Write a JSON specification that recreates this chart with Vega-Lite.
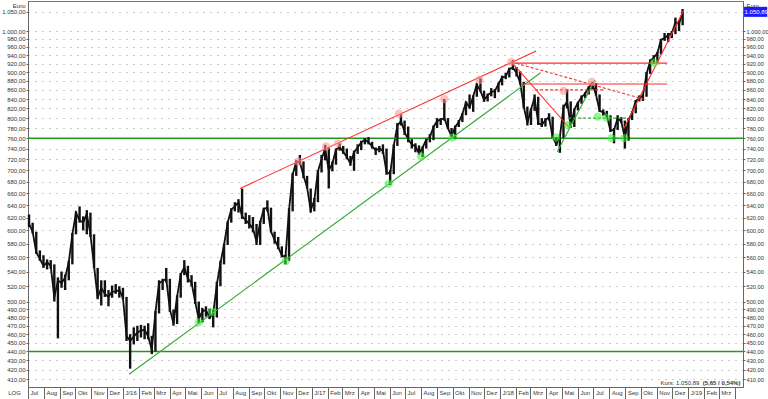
{
"$schema": "https://vega.github.io/schema/vega-lite/v6.json",
"width": 715, "height": 386,
"autosize": "none",
"padding": {"left": 28, "top": 1, "right": 25, "bottom": 12},
"background": "white",
"config": {
  "locale": {"number": {"decimal": ",", "thousands": ".", "grouping": [3], "currency": ["", " €"]}},
  "view": {"stroke": "#777", "strokeWidth": 1},
  "font": "Liberation Sans",
  "axis": {"labelFont": "Liberation Sans", "labelFontSize": 6, "labelColor": "#333", "titleFont": "Liberation Sans", "titleFontSize": 6, "titleFontWeight": "normal", "titleColor": "#333", "domainColor": "#666", "tickColor": "#666"}
},
"datasets": {
"px": [
{"d":"2015-07-03","lo":605,"hi":625,"c":610},{"d":"2015-07-10","lo":595,"hi":612,"c":598},{"d":"2015-07-17","lo":565,"hi":598,"c":567},{"d":"2015-07-24","lo":555,"hi":570,"c":558},{"d":"2015-07-31","lo":545,"hi":563,"c":548},{"d":"2015-08-07","lo":543,"hi":557,"c":553},{"d":"2015-08-14","lo":544,"hi":556,"c":548},{"d":"2015-08-21","lo":500,"hi":550,"c":505},{"d":"2015-08-28","lo":455,"hi":532,"c":528},{"d":"2015-09-04","lo":518,"hi":540,"c":524},{"d":"2015-09-11","lo":515,"hi":536,"c":532},{"d":"2015-09-18","lo":528,"hi":555,"c":553},{"d":"2015-09-25","lo":550,"hi":596,"c":594},{"d":"2015-10-02","lo":594,"hi":630,"c":628},{"d":"2015-10-09","lo":612,"hi":638,"c":616},{"d":"2015-10-16","lo":600,"hi":622,"c":612},{"d":"2015-10-23","lo":594,"hi":632,"c":626},{"d":"2015-10-30","lo":590,"hi":628,"c":594},{"d":"2015-11-06","lo":545,"hi":594,"c":548},{"d":"2015-11-13","lo":503,"hi":545,"c":505},{"d":"2015-11-20","lo":495,"hi":528,"c":518},{"d":"2015-11-27","lo":506,"hi":528,"c":510},{"d":"2015-12-04","lo":494,"hi":515,"c":506},{"d":"2015-12-11","lo":505,"hi":521,"c":513},{"d":"2015-12-18","lo":510,"hi":523,"c":513},{"d":"2015-12-25","lo":505,"hi":520,"c":515},
{"d":"2016-01-01","lo":503,"hi":518,"c":505},{"d":"2016-01-08","lo":452,"hi":506,"c":458},{"d":"2016-01-15","lo":421,"hi":460,"c":452},{"d":"2016-01-22","lo":448,"hi":468,"c":457},{"d":"2016-01-29","lo":452,"hi":470,"c":462},{"d":"2016-02-05","lo":456,"hi":471,"c":464},{"d":"2016-02-12","lo":454,"hi":470,"c":465},{"d":"2016-02-19","lo":454,"hi":473,"c":457},{"d":"2016-02-26","lo":437,"hi":458,"c":442},{"d":"2016-03-04","lo":440,"hi":488,"c":486},{"d":"2016-03-11","lo":485,"hi":528,"c":524},{"d":"2016-03-18","lo":515,"hi":530,"c":527},{"d":"2016-03-25","lo":525,"hi":545,"c":530},{"d":"2016-04-01","lo":487,"hi":530,"c":490},{"d":"2016-04-08","lo":470,"hi":490,"c":473},{"d":"2016-04-15","lo":472,"hi":508,"c":506},{"d":"2016-04-22","lo":505,"hi":538,"c":536},{"d":"2016-04-29","lo":535,"hi":556,"c":546},{"d":"2016-05-06","lo":525,"hi":548,"c":530},{"d":"2016-05-13","lo":520,"hi":535,"c":525},{"d":"2016-05-20","lo":497,"hi":526,"c":500},{"d":"2016-05-27","lo":473,"hi":500,"c":478},{"d":"2016-06-03","lo":474,"hi":492,"c":488},{"d":"2016-06-10","lo":481,"hi":494,"c":489},{"d":"2016-06-17","lo":478,"hi":491,"c":480},{"d":"2016-06-24","lo":468,"hi":489,"c":485},{"d":"2016-07-01","lo":480,"hi":526,"c":522},{"d":"2016-07-08","lo":520,"hi":555,"c":552},{"d":"2016-07-15","lo":550,"hi":580,"c":578},{"d":"2016-07-22","lo":578,"hi":614,"c":612},{"d":"2016-07-29","lo":612,"hi":635,"c":633},{"d":"2016-08-05","lo":630,"hi":645,"c":638},{"d":"2016-08-12","lo":628,"hi":650,"c":645},{"d":"2016-08-19","lo":618,"hi":668,"c":622},{"d":"2016-08-26","lo":610,"hi":628,"c":616},{"d":"2016-09-02","lo":603,"hi":624,"c":610},{"d":"2016-09-09","lo":597,"hi":621,"c":603},{"d":"2016-09-16","lo":578,"hi":610,"c":583},{"d":"2016-09-23","lo":578,"hi":615,"c":612},{"d":"2016-09-30","lo":610,"hi":636,"c":634},{"d":"2016-10-07","lo":630,"hi":648,"c":636},{"d":"2016-10-14","lo":597,"hi":636,"c":598},{"d":"2016-10-21","lo":580,"hi":598,"c":586},{"d":"2016-10-28","lo":572,"hi":590,"c":575},{"d":"2016-11-04","lo":560,"hi":576,"c":563},{"d":"2016-11-11","lo":550,"hi":564,"c":560},{"d":"2016-11-18","lo":555,"hi":635,"c":632},{"d":"2016-11-25","lo":630,"hi":695,"c":692},{"d":"2016-12-02","lo":690,"hi":718,"c":716},{"d":"2016-12-09","lo":710,"hi":728,"c":715},{"d":"2016-12-16","lo":686,"hi":716,"c":690},{"d":"2016-12-23","lo":668,"hi":690,"c":670},{"d":"2016-12-30","lo":628,"hi":668,"c":632},
{"d":"2017-01-06","lo":630,"hi":652,"c":648},{"d":"2017-01-13","lo":645,"hi":700,"c":698},{"d":"2017-01-20","lo":696,"hi":728,"c":720},{"d":"2017-01-27","lo":718,"hi":747,"c":740},{"d":"2017-02-03","lo":668,"hi":742,"c":700},{"d":"2017-02-10","lo":698,"hi":716,"c":712},{"d":"2017-02-17","lo":710,"hi":740,"c":738},{"d":"2017-02-24","lo":736,"hi":750,"c":743},{"d":"2017-03-03","lo":730,"hi":745,"c":734},{"d":"2017-03-10","lo":720,"hi":740,"c":724},{"d":"2017-03-17","lo":708,"hi":726,"c":712},{"d":"2017-03-24","lo":699,"hi":736,"c":733},{"d":"2017-03-31","lo":730,"hi":748,"c":742},{"d":"2017-04-07","lo":737,"hi":755,"c":752},{"d":"2017-04-14","lo":748,"hi":760,"c":757},{"d":"2017-04-21","lo":748,"hi":762,"c":752},{"d":"2017-04-28","lo":740,"hi":753,"c":744},{"d":"2017-05-05","lo":728,"hi":742,"c":737},{"d":"2017-05-12","lo":733,"hi":745,"c":740},{"d":"2017-05-19","lo":730,"hi":748,"c":736},{"d":"2017-05-26","lo":692,"hi":740,"c":697},{"d":"2017-06-02","lo":674,"hi":700,"c":693},{"d":"2017-06-09","lo":693,"hi":748,"c":745},{"d":"2017-06-16","lo":745,"hi":790,"c":785},{"d":"2017-06-23","lo":785,"hi":808,"c":794},{"d":"2017-06-30","lo":766,"hi":795,"c":772},{"d":"2017-07-07","lo":752,"hi":783,"c":757},{"d":"2017-07-14","lo":740,"hi":758,"c":748},{"d":"2017-07-21","lo":733,"hi":750,"c":744},{"d":"2017-07-28","lo":729,"hi":746,"c":731},{"d":"2017-08-04","lo":724,"hi":744,"c":742},{"d":"2017-08-11","lo":740,"hi":759,"c":757},{"d":"2017-08-18","lo":752,"hi":768,"c":762},{"d":"2017-08-25","lo":756,"hi":785,"c":782},{"d":"2017-09-01","lo":780,"hi":800,"c":794},{"d":"2017-09-08","lo":786,"hi":800,"c":797},{"d":"2017-09-15","lo":795,"hi":840,"c":800},{"d":"2017-09-22","lo":778,"hi":800,"c":779},{"d":"2017-09-29","lo":763,"hi":780,"c":764},{"d":"2017-10-06","lo":758,"hi":785,"c":782},{"d":"2017-10-13","lo":782,"hi":796,"c":792},{"d":"2017-10-20","lo":792,"hi":810,"c":808},{"d":"2017-10-27","lo":806,"hi":835,"c":833},{"d":"2017-11-03","lo":820,"hi":850,"c":822},{"d":"2017-11-10","lo":813,"hi":848,"c":846},{"d":"2017-11-17","lo":845,"hi":875,"c":872},{"d":"2017-11-24","lo":856,"hi":886,"c":858},{"d":"2017-12-01","lo":834,"hi":858,"c":838},{"d":"2017-12-08","lo":835,"hi":852,"c":848},{"d":"2017-12-15","lo":846,"hi":864,"c":855},{"d":"2017-12-22","lo":842,"hi":862,"c":858},{"d":"2017-12-29","lo":855,"hi":876,"c":873},
{"d":"2018-01-05","lo":870,"hi":892,"c":888},{"d":"2018-01-12","lo":884,"hi":898,"c":890},{"d":"2018-01-19","lo":888,"hi":910,"c":908},{"d":"2018-01-26","lo":905,"hi":928,"c":910},{"d":"2018-02-02","lo":890,"hi":912,"c":898},{"d":"2018-02-09","lo":872,"hi":902,"c":876},{"d":"2018-02-16","lo":820,"hi":878,"c":824},{"d":"2018-02-23","lo":785,"hi":824,"c":790},{"d":"2018-03-02","lo":786,"hi":820,"c":818},{"d":"2018-03-09","lo":815,"hi":850,"c":843},{"d":"2018-03-16","lo":786,"hi":845,"c":790},{"d":"2018-03-23","lo":782,"hi":800,"c":786},{"d":"2018-03-30","lo":783,"hi":800,"c":796},{"d":"2018-04-06","lo":795,"hi":810,"c":802},{"d":"2018-04-13","lo":760,"hi":803,"c":762},{"d":"2018-04-20","lo":745,"hi":762,"c":748},{"d":"2018-04-27","lo":732,"hi":765,"c":762},{"d":"2018-05-04","lo":760,"hi":828,"c":822},{"d":"2018-05-11","lo":820,"hi":862,"c":835},{"d":"2018-05-18","lo":780,"hi":835,"c":784},{"d":"2018-05-25","lo":782,"hi":820,"c":818},{"d":"2018-06-01","lo":816,"hi":834,"c":832},{"d":"2018-06-08","lo":830,"hi":848,"c":844},{"d":"2018-06-15","lo":842,"hi":855,"c":852},{"d":"2018-06-22","lo":850,"hi":868,"c":866},{"d":"2018-06-29","lo":862,"hi":878,"c":873},{"d":"2018-07-06","lo":848,"hi":875,"c":850},{"d":"2018-07-13","lo":813,"hi":850,"c":815},{"d":"2018-07-20","lo":805,"hi":818,"c":812},{"d":"2018-07-27","lo":802,"hi":815,"c":805},{"d":"2018-08-03","lo":772,"hi":806,"c":775},{"d":"2018-08-10","lo":750,"hi":780,"c":776},{"d":"2018-08-17","lo":776,"hi":806,"c":800},{"d":"2018-08-24","lo":790,"hi":802,"c":793},{"d":"2018-08-31","lo":740,"hi":795,"c":760},{"d":"2018-09-07","lo":755,"hi":800,"c":797},{"d":"2018-09-14","lo":796,"hi":814,"c":811},{"d":"2018-09-21","lo":810,"hi":838,"c":836},{"d":"2018-09-28","lo":835,"hi":848,"c":842},{"d":"2018-10-05","lo":836,"hi":850,"c":848},{"d":"2018-10-12","lo":845,"hi":900,"c":896},{"d":"2018-10-19","lo":896,"hi":930,"c":926},{"d":"2018-10-26","lo":920,"hi":940,"c":934},{"d":"2018-11-02","lo":922,"hi":948,"c":945},{"d":"2018-11-09","lo":942,"hi":980,"c":978},{"d":"2018-11-16","lo":975,"hi":995,"c":982},{"d":"2018-11-23","lo":972,"hi":995,"c":990},{"d":"2018-11-30","lo":982,"hi":1000,"c":994},{"d":"2018-12-07","lo":992,"hi":1035,"c":1022},{"d":"2018-12-14","lo":1000,"hi":1026,"c":1018},{"d":"2018-12-21","lo":1015,"hi":1058,"c":1050.89}
],
"seg": [
{"d1":"2016-01-13","v1":415,"d2":"2018-03-20","v2":898,"k":"g"},
{"d1":"2018-04-22","v1":734,"d2":"2018-07-04","v2":882,"k":"g"},
{"d1":"2018-05-13","v1":800,"d2":"2018-09-03","v2":800,"k":"gd"},
{"d1":"2016-08-15","v1":668,"d2":"2018-03-12","v2":950,"k":"r"},
{"d1":"2018-01-23","v1":924,"d2":"2018-05-15","v2":781,"k":"r"},
{"d1":"2018-01-23","v1":921,"d2":"2018-11-21","v2":921,"k":"r"},
{"d1":"2018-02-11","v1":873,"d2":"2018-11-21","v2":873,"k":"r"},
{"d1":"2018-08-29","v1":779,"d2":"2018-12-23","v2":1055,"k":"r"},
{"d1":"2018-01-23","v1":924,"d2":"2018-10-06","v2":840,"k":"rd"},
{"d1":"2018-03-10","v1":860,"d2":"2018-07-20","v2":860,"k":"rd"}
],
"hl": [{"v":760},{"v":440}],
"mk": [
{"d":"2016-05-27","v":474,"k":"low"},{"d":"2016-06-22","v":487,"k":"low"},{"d":"2016-11-12","v":555,"k":"low"},{"d":"2017-05-30","v":676,"k":"low"},{"d":"2017-08-01","v":725,"k":"low"},{"d":"2017-10-01","v":761,"k":"low"},{"d":"2018-04-20","v":761,"k":"low"},{"d":"2018-05-13","v":786,"k":"low"},{"d":"2018-07-09","v":803,"k":"low"},{"d":"2018-07-26","v":801,"k":"low"},{"d":"2018-08-05","v":760,"k":"low"},{"d":"2018-08-30","v":760,"k":"low"},{"d":"2018-10-27","v":922,"k":"low"},
{"d":"2016-12-06","v":716,"k":"high"},{"d":"2017-01-29","v":744,"k":"high"},{"d":"2017-02-21","v":750,"k":"high"},{"d":"2017-06-19","v":809,"k":"high"},{"d":"2017-09-15","v":840,"k":"high"},{"d":"2017-11-22","v":882,"k":"high"},{"d":"2018-01-23","v":924,"k":"high"},{"d":"2018-05-04","v":858,"k":"high"},{"d":"2018-06-28","v":878,"k":"high"}
]
},
"layer": [
{"data": {"name": "px"}, "mark": {"type": "line", "color": "#111", "strokeWidth": 1.8},
 "encoding": {
  "x": {"field": "d", "type": "temporal", "scale": {"type": "utc", "domain": [{"year":2015,"month":7,"date":1,"utc":true},{"year":2019,"month":4,"date":17,"utc":true}]},
    "axis": {"orient": "bottom", "tickCount": "month", "labelExpr": "datum.value >= 1554076800000 ? '' : (utcmonth(datum.value) == 0 ? 'J/' + utcFormat(datum.value, '%y') : ['Jan','Feb','Mrz','Apr','Mai','Jun','Jul','Aug','Sep','Okt','Nov','Dez'][utcmonth(datum.value)])", "labelAlign": "left", "labelBaseline": "middle", "labelOffset": 2, "labelPadding": -7, "tickSize": 12, "grid": false, "labelOverlap": false, "labelFlush": false, "labelBound": false, "title": "LOG", "titleX": -14, "titleY": 5, "titleAlign": "center", "titleBaseline": "middle"}},
  "y": {"field": "c", "type": "quantitative", "scale": {"type": "log", "domain": [401.7, 1080], "nice": false},
    "axis": {"orient": "left", "values": [410,420,430,440,450,460,470,480,490,500,520,540,560,580,600,620,640,660,680,700,720,740,760,780,800,820,840,860,880,900,920,940,960,980,1000,1050], "format": ",.2f", "grid": true, "gridColor": "#999", "gridDash": [1,6], "gridWidth": 1, "tickSize": 2, "labelPadding": 1, "labelOverlap": false, "labelFlush": false, "labelBound": false, "title": "Euro", "titleAngle": 0, "titleAlign": "right", "titleBaseline": "middle", "titleX": -3, "titleY": 4}}}},
{"data": {"name": "hl"}, "mark": {"type": "rule", "color": "#1f9a1f", "strokeWidth": 1.5},
 "encoding": {"y": {"field": "v", "type": "quantitative",
    "axis": {"orient": "right", "values": [410,420,430,440,450,460,470,480,490,500,520,540,560,580,600,620,640,660,680,700,720,740,760,780,800,820,840,860,880,900,920,940,960,980,1000], "format": ",.2f", "grid": false, "tickSize": 2, "labelPadding": 1, "labelFontSize": 5.7, "labelOverlap": false, "labelFlush": false, "labelBound": false, "title": "Euro", "titleAngle": 0, "titleAlign": "left", "titleBaseline": "middle", "titleX": 3, "titleY": 4}}}},
{"data": {"name": "px"}, "mark": {"type": "rule", "color": "#111", "strokeWidth": 2.4},
 "encoding": {
  "x": {"field": "d", "type": "temporal", "axis": null},
  "y": {"field": "lo", "type": "quantitative", "axis": null},
  "y2": {"field": "hi"}}},
{"data": {"name": "seg"}, "transform": [{"filter": "datum.k == 'g'"}], "mark": {"type": "rule", "color": "#2fa82f", "strokeWidth": 1.1},
 "encoding": {"x": {"field": "d1", "type": "temporal", "axis": null}, "x2": {"field": "d2"}, "y": {"field": "v1", "type": "quantitative", "axis": null}, "y2": {"field": "v2"}}},
{"data": {"name": "seg"}, "transform": [{"filter": "datum.k == 'gd'"}], "mark": {"type": "rule", "color": "#2fa82f", "strokeWidth": 1.1, "strokeDash": [3,2]},
 "encoding": {"x": {"field": "d1", "type": "temporal", "axis": null}, "x2": {"field": "d2"}, "y": {"field": "v1", "type": "quantitative", "axis": null}, "y2": {"field": "v2"}}},
{"data": {"name": "seg"}, "transform": [{"filter": "datum.k == 'r'"}], "mark": {"type": "rule", "color": "#ff2b2b", "strokeWidth": 1.1},
 "encoding": {"x": {"field": "d1", "type": "temporal", "axis": null}, "x2": {"field": "d2"}, "y": {"field": "v1", "type": "quantitative", "axis": null}, "y2": {"field": "v2"}}},
{"data": {"name": "seg"}, "transform": [{"filter": "datum.k == 'rd'"}], "mark": {"type": "rule", "color": "#ff2b2b", "strokeWidth": 1.1, "strokeDash": [3,2]},
 "encoding": {"x": {"field": "d1", "type": "temporal", "axis": null}, "x2": {"field": "d2"}, "y": {"field": "v1", "type": "quantitative", "axis": null}, "y2": {"field": "v2"}}},
{"data": {"name": "mk"}, "mark": {"type": "point", "filled": true, "size": 70, "opacity": 0.55, "shape": "circle"},
 "encoding": {"x": {"field": "d", "type": "temporal", "axis": null}, "y": {"field": "v", "type": "quantitative", "axis": null},
  "color": {"field": "k", "type": "nominal", "scale": {"domain": ["low", "high"], "range": ["#3cf03c", "#ff8c8c"]}, "legend": null}}},
{"data": {"values": [{"t": "1.050,89"}]}, "mark": {"type": "rect", "color": "#1a1aff", "clip": false},
 "encoding": {"x": {"datum": {"year":2019,"month":4,"date":19,"utc":true}, "type": "temporal", "axis": null}, "x2": {"datum": {"year":2019,"month":6,"date":3,"utc":true}},
  "y": {"datum": 1064, "type": "quantitative", "axis": null}, "y2": {"datum": 1037}}},
{"data": {"values": [{"t": "1.050,89"}]}, "mark": {"type": "text", "color": "white", "fontSize": 6, "align": "left", "baseline": "middle", "font": "Liberation Sans", "clip": false},
 "encoding": {"x": {"datum": {"year":2019,"month":4,"date":20,"utc":true}, "type": "temporal", "axis": null}, "y": {"datum": 1050.89, "type": "quantitative", "axis": null}, "text": {"field": "t"}}},
{"data": {"values": [{"t": "(5,65 / 0,54%)"}]}, "mark": {"type": "text", "color": "#333", "fontSize": 6, "fontWeight": "bold", "align": "right", "baseline": "middle", "font": "Liberation Sans"},
 "encoding": {"x": {"datum": {"year":2019,"month":4,"date":12,"utc":true}, "type": "temporal", "axis": null}, "y": {"datum": 405.8, "type": "quantitative", "axis": null}, "text": {"field": "t"}}},
{"data": {"values": [{"t": "Kurs: 1.050,89"}]}, "mark": {"type": "text", "color": "#333", "fontSize": 6, "align": "right", "baseline": "middle", "font": "Liberation Sans", "dx": -41},
 "encoding": {"x": {"datum": {"year":2019,"month":4,"date":12,"utc":true}, "type": "temporal", "axis": null}, "y": {"datum": 405.8, "type": "quantitative", "axis": null}, "text": {"field": "t"}}}
],
"resolve": {"axis": {"x": "independent", "y": "independent"}}
}
